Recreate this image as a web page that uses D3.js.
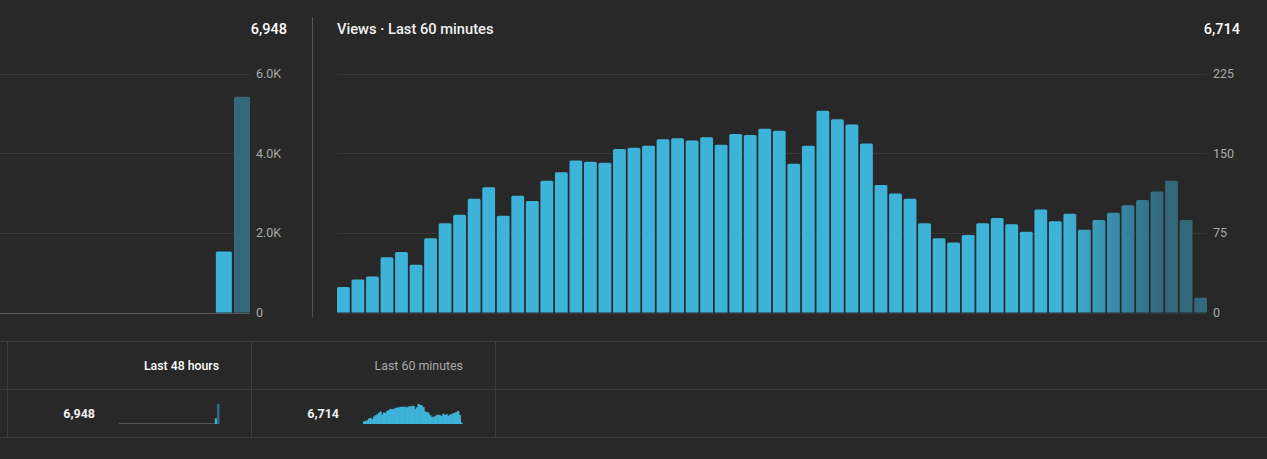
<!DOCTYPE html>
<html>
<head>
<meta charset="utf-8">
<script src="https://cdn.jsdelivr.net/npm/d3@7"></script>
<style>
  html, body { margin: 0; padding: 0; background: #282828; }
  svg { display: block; font-family: Roboto, "Noto Sans", sans-serif; }
</style>
</head>
<body>
<svg id="chart" width="1267" height="459"></svg>
<script>
const width = 1267
const height = 459

// views per hour, last 48 hours
const hourViews = [0, 0, 0, 0, 0, 0, 0, 0, 0, 0, 0, 0,
                   0, 0, 0, 0, 0, 0, 0, 0, 0, 0, 0, 0,
                   0, 0, 0, 0, 0, 0, 0, 0, 0, 0, 0, 0,
                   0, 0, 0, 0, 0, 0, 0, 0, 0, 0, 1530, 5418]
const hourTicks = [0, 2000, 4000, 6000]

// views per minute, last 60 minutes
const minuteViews = [24, 31, 34, 52, 57, 45, 70, 84, 92, 107,
                     118, 91, 110, 105, 124, 132, 143, 142, 141, 154,
                     155, 157, 163, 164, 162, 165, 158, 168, 167, 173,
                     171, 140, 157, 190, 182, 177, 159, 120, 112, 107,
                     84, 70, 66, 73, 84, 89, 83, 76, 97, 86,
                     93, 78, 87, 94, 101, 106, 114, 124, 87, 14]
const minuteTicks = [0, 75, 150, 225]

const totals = ['6,948', '6,714']
const title = 'Views · Last 60 minutes'
const tableHeaders = ['Last 48 hours', 'Last 60 minutes']

const bright = '#3eb3d9'
const dark = '#33677a'
const gridColor = '#373737'
const lineColor = '#3e3e3e'

const svg = d3.select('#chart')
const defs = svg.append('defs')

let yTop = 73.5
let yBottom = 312.5

// fade the bars from bright to dark between two x positions
let addFade = (id, x1, x2) => {
  let grad = defs.append('linearGradient')
                 .attr('id', id)
                 .attr('gradientUnits', 'userSpaceOnUse')
                 .attr('x1', x1)
                 .attr('x2', x2)
                 .attr('y1', 0)
                 .attr('y2', 0)
  grad.append('stop').attr('offset', 0).attr('stop-color', bright)
  grad.append('stop').attr('offset', 1).attr('stop-color', dark)
}

let drawPanel = (data, ticks, x0, x1, fmt, gradId, fadeFrom, fadeTo, baseColor) => {
  let xScale = d3.scaleBand()
                 .domain(d3.range(data.length))
                 .range([x0, x1])
                 .paddingInner(0.12)
                 .paddingOuter(0)

  let yScale = d3.scaleLinear()
                 .domain([0, ticks[ticks.length - 1]])
                 .range([yBottom, yTop])

  let g = svg.append('g')

  g.selectAll('.grid')
   .data(ticks)
   .join('line')
   .attr('x1', Math.max(x0, 0))
   .attr('x2', x1)
   .attr('y1', d => Math.round(yScale(d)) + 0.5)
   .attr('y2', d => Math.round(yScale(d)) + 0.5)
   .style('stroke', d => d == 0 ? baseColor : gridColor)
   .style('stroke-width', 1)

  g.selectAll('.tickLabel')
   .data(ticks)
   .join('text')
   .text(fmt)
   .attr('x', x1 + 6)
   .attr('y', d => yScale(d))
   .attr('dy', '0.36em')
   .style('fill', '#aaaaaa')
   .style('font-size', '12.5px')

  let bw = xScale.bandwidth()
  // bright after the end of bar fadeFrom, dark from the start of bar fadeTo
  addFade(gradId, xScale(fadeFrom) + bw, xScale(fadeTo))

  let r = 1.5
  g.selectAll('.bar')
   .data(data.map((v, i) => ({v, i})).filter(d => d.v > 0))
   .join('path')
   .attr('d', d => {
     let bx = xScale(d.i)
     let by = yScale(d.v)
     return `M${bx},${yBottom} V${by + r} Q${bx},${by} ${bx + r},${by} H${bx + bw - r} Q${bx + bw},${by} ${bx + bw},${by + r} V${yBottom} Z`
   })
   .style('fill', `url(#${gradId})`)
}

// left panel: last 48 hours (starts off-screen)
drawPanel(hourViews, hourTicks, -620, 250, d => d == 0 ? '0' : d3.format('.1f')(d / 1000) + 'K',
          'fadeHours', 46, 47, '#5a5a5a')

// right panel: last 60 minutes
drawPanel(minuteViews, minuteTicks, 337, 1207, d => d,
          'fadeMinutes', 49, 57, gridColor)

// divider between panels
svg.append('line')
   .attr('x1', 312.5).attr('x2', 312.5)
   .attr('y1', 17).attr('y2', 317)
   .style('stroke', '#555555')

// header texts
svg.append('text')
   .text(totals[0])
   .attr('x', 287).attr('y', 34)
   .style('text-anchor', 'end')
   .style('fill', '#ffffff')
   .style('font-size', '14.5px')
   .style('font-weight', 500)

svg.append('text')
   .text(title)
   .attr('x', 337).attr('y', 34)
   .style('fill', '#f1f1f1')
   .style('font-size', '14.7px')
   .style('font-weight', 500)

svg.append('text')
   .text(totals[1])
   .attr('x', 1240).attr('y', 34)
   .style('text-anchor', 'end')
   .style('fill', '#ffffff')
   .style('font-size', '14.5px')
   .style('font-weight', 500)

// table below
let rowLines = [341.5, 389.5, 437.5]
svg.selectAll('.rowLine')
   .data(rowLines)
   .join('line')
   .attr('x1', 0).attr('x2', width)
   .attr('y1', d => d).attr('y2', d => d)
   .style('stroke', lineColor)

let colLines = [7.5, 251.5, 495.5]
svg.selectAll('.colLine')
   .data(colLines)
   .join('line')
   .attr('x1', d => d).attr('x2', d => d)
   .attr('y1', 341.5).attr('y2', 437.5)
   .style('stroke', lineColor)

svg.append('text')
   .text(tableHeaders[0])
   .attr('x', 219).attr('y', 366).attr('dy', '0.36em')
   .style('text-anchor', 'end')
   .style('fill', '#ffffff')
   .style('font-size', '12.3px')
   .style('font-weight', 500)

svg.append('text')
   .text(tableHeaders[1])
   .attr('x', 463).attr('y', 366).attr('dy', '0.36em')
   .style('text-anchor', 'end')
   .style('fill', '#aaaaaa')
   .style('font-size', '12.4px')

svg.append('text')
   .text(totals[0])
   .attr('x', 95).attr('y', 413).attr('dy', '0.36em')
   .style('text-anchor', 'end')
   .style('fill', '#f1f1f1')
   .style('font-size', '12.5px')
   .style('font-weight', 700)

svg.append('text')
   .text(totals[1])
   .attr('x', 339).attr('y', 413).attr('dy', '0.36em')
   .style('text-anchor', 'end')
   .style('fill', '#f1f1f1')
   .style('font-size', '12.5px')
   .style('font-weight', 700)

// sparklines
let drawSpark = (data, x0, x1, lastDark) => {
  let xs = d3.scaleBand().domain(d3.range(data.length)).range([x0, x1])
  let ys = d3.scaleLinear().domain([0, d3.max(data)]).range([424, 404])
  let g = svg.append('g')
  if (lastDark) {
    g.append('line')
     .attr('x1', x0).attr('x2', x1)
     .attr('y1', 423.5).attr('y2', 423.5)
     .style('stroke', '#555555')
  }
  g.selectAll('rect')
   .data(data)
   .join('rect')
   .attr('x', (d, i) => xs(i))
   .attr('width', xs.bandwidth() + 0.6)
   .attr('y', d => ys(d))
   .attr('height', d => 424 - ys(d))
   .style('fill', (d, i) => lastDark && i == data.length - 1 ? dark : bright)
}

drawSpark(hourViews, 119, 219, true)
drawSpark(minuteViews, 363, 462, false)
</script>
</body>
</html>
